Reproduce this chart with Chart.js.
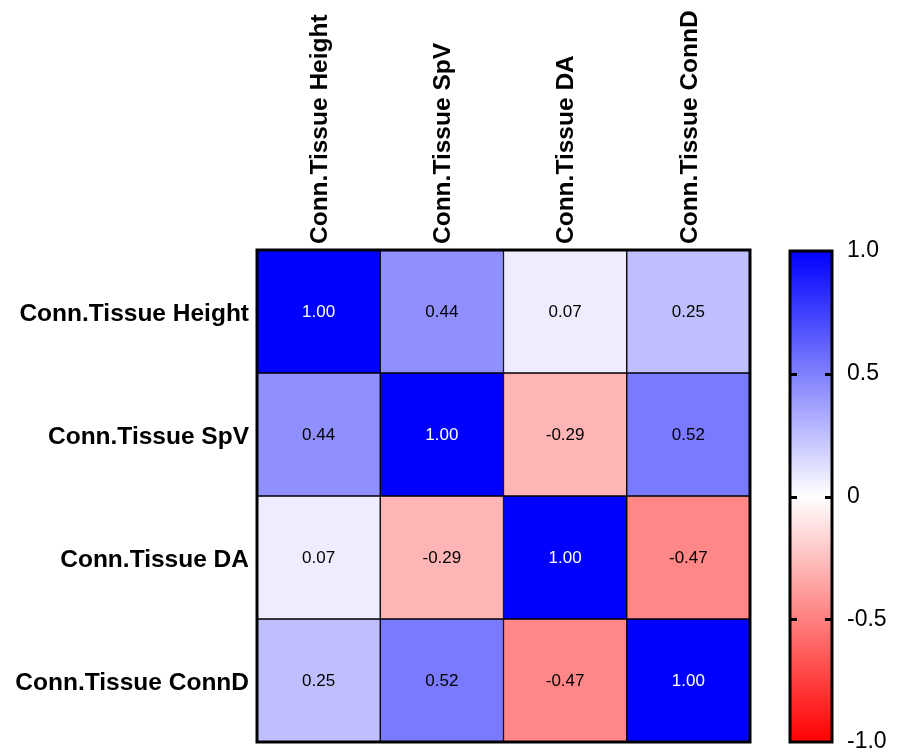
<!DOCTYPE html>
<html>
<head>
<meta charset="utf-8">
<script src="https://cdn.jsdelivr.net/npm/chart.js@4/dist/chart.umd.min.js"></script>
<style>
  html, body { margin: 0; padding: 0; background: #fff; width: 904px; height: 752px; overflow: hidden; }
  #heat { position: absolute; left: 0; top: 0; }
  #scale { position: absolute; left: 770px; top: 0; }
</style>
</head>
<body>
<canvas id="heat" width="770" height="752"></canvas>
<canvas id="scale" width="134" height="752"></canvas>
<script>
// Variables (rows and columns share the same order)
const variables = ['Conn.Tissue Height', 'Conn.Tissue SpV', 'Conn.Tissue DA', 'Conn.Tissue ConnD'];

// Correlation matrix, one array per row
const rowHeight = [1.00, 0.44, 0.07, 0.25];
const rowSpV    = [0.44, 1.00, -0.29, 0.52];
const rowDA     = [0.07, -0.29, 1.00, -0.47];
const rowConnD  = [0.25, 0.52, -0.47, 1.00];
const corr = [rowHeight, rowSpV, rowDA, rowConnD];

// Colour bar range and tick values
const scaleMin = -1;
const scaleMax = 1;
const scaleTicks = [1.0, 0.5, 0, -0.5, -1.0];

const FONT = "'Liberation Sans', Arial, Helvetica, sans-serif";
Chart.defaults.font.family = FONT;
Chart.defaults.color = '#000';

// Blue (+1) - white (0) - red (-1)
function cellColor(v) {
  if (v >= 0) {
    const c = Math.round(255 * (1 - v));
    return `rgb(${c},${c},255)`;
  }
  const c = Math.round(255 * (1 + v));
  return `rgb(255,${c},${c})`;
}

// Fixed axis sizes, no extra edge padding from tick labels
function fixSize(prop, size) {
  return (scale) => {
    scale[prop] = size;
    scale.paddingTop = 0;
    scale.paddingBottom = 0;
    scale.paddingLeft = 0;
    scale.paddingRight = 0;
  };
}

// Value text inside each cell + thick frame around the grid
const cellText = {
  id: 'cellText',
  afterDatasetsDraw(chart) {
    const ctx = chart.ctx;
    ctx.save();
    ctx.font = `17px ${FONT}`;
    ctx.textAlign = 'center';
    ctx.textBaseline = 'middle';
    chart.data.datasets.forEach((ds, r) => {
      chart.getDatasetMeta(r).data.forEach((bar, c) => {
        const v = corr[r][c];
        const p = bar.getCenterPoint();
        ctx.fillStyle = Math.abs(v) > 0.8 ? '#fff' : '#000';
        ctx.fillText(v.toFixed(2), p.x, p.y + 1);
      });
    });
    const a = chart.chartArea;
    ctx.lineWidth = 3;
    ctx.strokeStyle = '#000';
    ctx.strokeRect(a.left, a.top, a.right - a.left, a.bottom - a.top);
    ctx.restore();
  }
};

new Chart(document.getElementById('heat'), {
  type: 'bar',
  data: {
    labels: variables,
    datasets: corr.map((row, r) => ({
      label: variables[r],
      data: row.map(() => [r, r + 1]),
      backgroundColor: row.map(cellColor),
      borderColor: '#000',
      borderWidth: 1,
      borderSkipped: false,
      grouped: false,
      barPercentage: 1,
      categoryPercentage: 1
    }))
  },
  options: {
    responsive: false,
    animation: false,
    devicePixelRatio: 1,
    layout: { padding: { left: 0, top: 0, right: 20, bottom: 10 } },
    plugins: { legend: { display: false }, tooltip: { enabled: false } },
    scales: {
      x: {
        type: 'category',
        position: 'top',
        grid: { display: false, drawTicks: false },
        border: { display: false },
        ticks: {
          minRotation: 90,
          maxRotation: 90,
          padding: 6,
          labelOffset: 31,
          autoSkip: false,
          font: { size: 24.5, weight: 'bold' }
        },
        afterFit: fixSize('height', 250)
      },
      y: {
        type: 'linear',
        reverse: true,
        min: 0,
        max: variables.length,
        grid: { display: false, drawTicks: false },
        border: { display: false },
        afterBuildTicks(scale) {
          scale.ticks = variables.map((_, i) => ({ value: i + 0.5 }));
        },
        ticks: {
          padding: 8,
          labelOffset: 3,
          autoSkip: false,
          font: { size: 24.5, weight: 'bold' },
          callback: (v) => variables[Math.floor(v)]
        },
        afterFit: fixSize('width', 257)
      }
    }
  },
  plugins: [cellText]
});

// Colour bar: inner tick marks and frame
const barFrame = {
  id: 'barFrame',
  afterDatasetsDraw(chart) {
    const ctx = chart.ctx;
    const a = chart.chartArea;
    const y = chart.scales.y;
    ctx.save();
    ctx.strokeStyle = '#000';
    ctx.lineWidth = 3;
    scaleTicks.forEach((t) => {
      if (t === scaleMin || t === scaleMax) return;
      const py = Math.round(y.getPixelForValue(t)) + 0.5;
      ctx.beginPath();
      ctx.moveTo(a.left, py); ctx.lineTo(a.left + 7, py);
      ctx.moveTo(a.right - 7, py); ctx.lineTo(a.right, py);
      ctx.stroke();
    });
    ctx.strokeRect(a.left, a.top, a.right - a.left, a.bottom - a.top);
    ctx.restore();
  }
};

new Chart(document.getElementById('scale'), {
  type: 'bar',
  data: {
    labels: [''],
    datasets: [{
      data: [[scaleMin, scaleMax]],
      backgroundColor(ctx) {
        const chart = ctx.chart;
        const a = chart.chartArea;
        const y = chart.scales.y;
        if (!a || !y) return '#fff';
        const top = y.getPixelForValue(scaleMax);
        const bottom = y.getPixelForValue(scaleMin);
        const g = chart.ctx.createLinearGradient(0, top, 0, bottom);
        g.addColorStop(0, '#0000ff');
        g.addColorStop(0.5, '#ffffff');
        g.addColorStop(1, '#ff0000');
        return g;
      },
      borderWidth: 0,
      barPercentage: 1,
      categoryPercentage: 1
    }]
  },
  options: {
    responsive: false,
    animation: false,
    devicePixelRatio: 1,
    layout: { padding: { left: 20, top: 251, right: 0, bottom: 10 } },
    plugins: { legend: { display: false }, tooltip: { enabled: false } },
    scales: {
      x: { display: false },
      y: {
        position: 'right',
        min: scaleMin,
        max: scaleMax,
        grid: { display: false, drawTicks: false },
        border: { display: false },
        afterBuildTicks(scale) {
          scale.ticks = scaleTicks.map((v) => ({ value: v }));
        },
        ticks: {
          padding: 15,
          font: { size: 23 },
          callback: (v) => (v === 0 ? '0' : v.toFixed(1))
        },
        afterFit: fixSize('width', 72)
      }
    }
  },
  plugins: [barFrame]
});
</script>
</body>
</html>
